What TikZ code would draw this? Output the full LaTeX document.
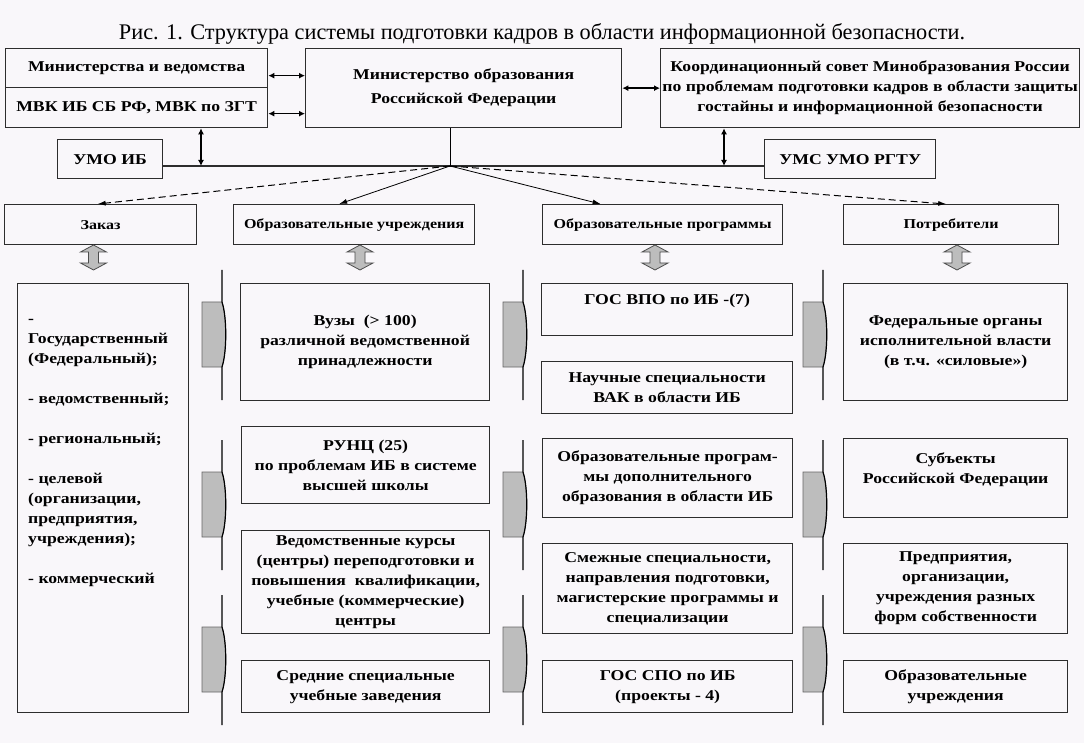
\documentclass[tikz,border=0pt]{standalone}
\usepackage{fontspec}
\setmainfont{Liberation Serif}
\newfontfamily\bx{Liberation Serif}[FakeStretch=1.18]
\usetikzlibrary{arrows.meta,calc}
\definecolor{bgc}{RGB}{249,247,250}
\definecolor{boxc}{RGB}{45,45,45}
\definecolor{greyc}{RGB}{189,189,189}
\begin{document}
\begin{tikzpicture}[x=1pt,y=-1pt,
  box/.style={draw=boxc, line width=1.3pt, anchor=north west, align=center, inner sep=0.5pt,
     font=\bx\bfseries\fontsize{15}{20}\selectfont},
  cat/.style={box, font=\bx\bfseries\fontsize{13.6}{20}\selectfont},
  wh/.style 2 args={minimum width=#1pt, minimum height=#2pt},
  dbl/.style={line width=1.5pt, {Latex[length=6pt,width=6pt]}-{Latex[length=6pt,width=6pt]}},
  dsh/.style={line width=1pt, dash pattern=on 7pt off 4pt, -{Latex[length=8pt,width=5pt]}},
  sld/.style={line width=0.8pt, -{Latex[length=8pt,width=5pt]}},
  updown/.pic={\filldraw[fill=greyc, draw=black!70, line width=0.8pt] (0,0) -- (13,7) -- (5,7) -- (5,18) -- (13,18) -- (0,25) -- (-13,18) -- (-5,18) -- (-5,7) -- (-13,7) -- cycle;},
  chev/.pic={\filldraw[fill=greyc, draw=black!60, line width=0.6pt] (-20,0) -- (0,0) .. controls (5,15) and (5,50) .. (0,65) -- (-20,65) -- cycle;
     \draw[black, line width=1.2pt] (0,-32) -- (0,0) .. controls (5,15) and (5,50) .. (0,65) -- (0,98);}
]
\fill[bgc] (0,0) rectangle (1084,743);
\useasboundingbox (0,0) rectangle (1084,743);

\node[font=\fontsize{22.3}{24}\selectfont] (title) at (542,34) {Рис. 1. Структура системы подготовки кадров в области информационной безопасности.};

% top row
\node[box, wh={262}{39}] (mins) at (5,48) {Министерства и ведомства};
\node[box, wh={262}{40}] (mvk) at (5,87) {МВК ИБ СБ РФ, МВК по ЗГТ};
\node[box, wh={316}{79}] (minobr) at (305,48) {Министерство образования\\[4pt]Российской Федерации};
\node[box, wh={419}{79}] (coord) at (660,48) {Координационный совет Минобразования России\\по проблемам подготовки кадров в области защиты\\гостайны и информационной безопасности};
\node[box, wh={105}{39}] (umo) at (57,139) {УМО ИБ};
\node[box, wh={171}{39}] (ums) at (764,139) {УМС УМО РГТУ};

\draw[dbl] ([yshift=-7.5pt]mins.east) -- ([yshift=-7.5pt]mins.east -| minobr.west);
\draw[dbl] ([yshift=-6pt]mvk.east) -- ([yshift=-6pt]mvk.east -| minobr.west);
\draw[dbl] (minobr.east) -- (minobr.east -| coord.west);

\coordinate (hub) at (450,166);
\coordinate (vl) at (201,166);
\coordinate (vr) at (724,166);
\draw[line width=1.3pt, boxc] (hub -| umo.east) -- (hub -| ums.west);
\draw[line width=0.9pt] (hub |- minobr.south) -- (hub);
\draw[dbl] (vl |- mvk.south) -- (vl);
\draw[dbl] (vr |- coord.south) -- (vr);

% categories
\node[cat, wh={192}{40}] (zakaz) at (4,204) {Заказ};
\node[cat, wh={241}{40}] (ou) at (233,204) {Образовательные учреждения};
\node[cat, wh={240}{40}] (op) at (542,204) {Образовательные программы};
\node[cat, wh={215}{40}] (potr) at (843,204) {Потребители};

\draw[dsh] (hub) -- ([xshift=-3pt]zakaz.north);
\draw[sld] (hub) -- ([xshift=-15pt]ou.north);
\draw[sld] (hub) -- ([xshift=-62pt]op.north);
\draw[dsh] (hub) -- ([xshift=-5pt]potr.north);

\pic at (93.5,245) {updown};
\pic at (360,245) {updown};
\pic at (655,245) {updown};
\pic at (957,245) {updown};

% column 1
\node[box, wh={171}{429}] (zlist) at (17,283) {};
\node[anchor=north west, align=left, inner sep=0pt, font=\bx\bfseries\fontsize{15}{20}\selectfont] (ztext) at (28,309)
 {\strut-\\Государственный\\(Федеральный);\\[20pt]- ведомственный;\\[20pt]- региональный;\\[20pt]- целевой\\(организации,\\предприятия,\\учреждения);\\[20pt]- коммерческий};

% column 2
\node[box, wh={249}{117}] (vuz) at (240,283) {Вузы\ \ (> 100)\\различной ведомственной\\принадлежности};
\node[box, wh={248}{77}] (runc) at (241,426) {РУНЦ (25)\\по проблемам ИБ в системе\\высшей школы};
\node[box, wh={248}{103}] (ved) at (241,530) {Ведомственные курсы\\(центры) переподготовки и\\повышения\ \ квалификации,\\учебные (коммерческие)\\центры};
\node[box, wh={248}{52}] (sred) at (241,660) {Средние специальные\\учебные заведения};

% column 3
\node[box, wh={251}{52}] (gosvpo) at (541,283) {ГОС ВПО по ИБ -(7)\\ \mbox{}};
\node[box, wh={251}{52}] (nauch) at (541,361) {Научные специальности\\ВАК в области ИБ};
\node[box, wh={250}{79}] (dop) at (542,438) {Образовательные програм-\\мы дополнительного\\образования в области ИБ};
\node[box, wh={250}{90}] (smezh) at (542,543) {Смежные специальности,\\направления подготовки,\\магистерские программы и\\специализации};
\node[box, wh={250}{52}] (gosspo) at (542,660) {ГОС СПО по ИБ\\(проекты - 4)};

% column 4
\node[box, wh={224}{117}] (fed) at (843,283) {Федеральные органы\\исполнительной власти\\(в т.ч. «силовые»)};
\node[box, wh={224}{79}] (subj) at (843,438) {Субъекты\\Российской Федерации\\ \mbox{}};
\node[box, wh={224}{90}] (pred) at (843,543) {Предприятия,\\организации,\\учреждения разных\\форм собственности};
\node[box, wh={224}{52}] (obru) at (843,660) {Образовательные\\учреждения};

% chevrons
\foreach \gx in {222,523,823}{
  \foreach \gy in {302,472,627}{
    \pic at (\gx,\gy) {chev};
  }
}
\end{tikzpicture}
\end{document}
